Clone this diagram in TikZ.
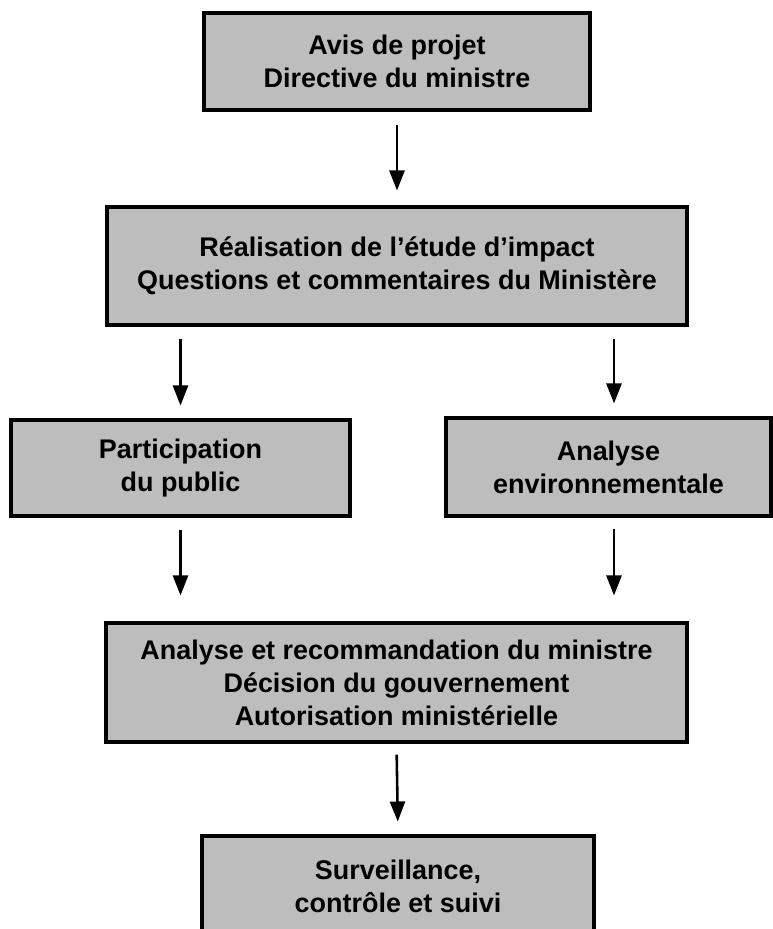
\documentclass[tikz,border=0pt]{standalone}
\usepackage{fontspec}
\setmainfont{Liberation Sans}
\usetikzlibrary{arrows.meta,calc,positioning}
\tikzset{
  etape/.style={draw, line width=2.6pt, fill=black!26, inner sep=0pt, align=center, font=\fontsize{23}{28.2}\selectfont\bfseries},
  fleche/.style={line width=2.2pt, -{Triangle[length=0.6cm,width=0.45cm]}}
}
\begin{document}
\begin{tikzpicture}[x=0.03cm,y=-0.03cm]
\useasboundingbox (0,0) rectangle (772,929);
\node[etape, minimum width=11.58cm, minimum height=2.91cm] (avis) at (397,61.5) {Avis de projet\\Directive du ministre};
\node[etape, minimum width=17.4cm, minimum height=3.54cm] (realisation) at (397,266) {Réalisation de l'étude d'impact\\Questions et commentaires du Ministère};
\node[etape, minimum width=10.17cm, minimum height=2.88cm] (participation) at (180.5,468) {Participation\\du public};
\node[etape, minimum width=9.75cm, minimum height=2.94cm] (analyse) at (608.5,467) {Analyse\\environnementale};
\node[etape, minimum width=17.43cm, minimum height=3.57cm] (recommandation) at (396.5,682.5) {Analyse et recommandation du ministre\\Décision du gouvernement\\Autorisation ministérielle};
\node[etape, minimum width=11.76cm, minimum height=3cm] (surveillance) at (398,886) {Surveillance,\\contrôle et suivi};
\draw[fleche, shorten <=0.39cm, shorten >=0.45cm] (avis.south) -- (realisation.north);
\draw[fleche, shorten <=0.36cm, shorten >=0.39cm] (realisation.south -| participation) -- (participation.north);
\draw[fleche, shorten <=0.36cm, shorten >=0.39cm] ([xshift=0.165cm]realisation.south -| analyse) -- ([xshift=0.165cm]analyse.north);
\draw[fleche, shorten <=0.36cm, shorten >=0.78cm] (participation.south) -- (participation.south |- recommandation.north);
\draw[fleche, shorten <=0.33cm, shorten >=0.78cm] ([xshift=0.165cm]analyse.south) -- ([xshift=0.165cm]analyse.south |- recommandation.north);
\draw[fleche, shorten <=0.33cm, shorten >=0.39cm] (recommandation.south) -- (surveillance.north);
\end{tikzpicture}
\end{document}
